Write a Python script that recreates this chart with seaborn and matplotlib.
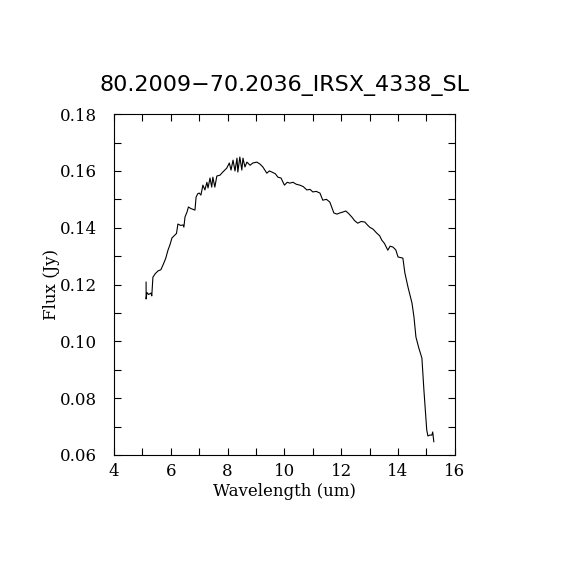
## Recreate IRS spectrum plot

## Imports
import numpy as np
import pandas as pd
import seaborn as sns
import matplotlib.pyplot as plt
from matplotlib.ticker import MultipleLocator

## Data
wavelength = [5.13, 5.13, 5.16, 5.22, 5.30, 5.33, 5.37, 5.45, 5.55, 5.65, 5.73, 5.82, 5.90,
              5.97, 6.04, 6.12, 6.20, 6.25, 6.35, 6.43, 6.46, 6.50, 6.57, 6.62, 6.70,
              6.85, 6.89, 6.95, 7.00, 7.06, 7.13, 7.20, 7.27, 7.31, 7.38, 7.44, 7.48,
              7.55, 7.62, 7.73, 7.83, 7.97, 8.06, 8.12, 8.19, 8.26, 8.33, 8.36, 8.43,
              8.50, 8.54, 8.61, 8.68, 8.79, 8.89, 9.03, 9.14, 9.24, 9.38, 9.47, 9.56,
              9.68, 9.77, 9.88, 10.00, 10.10, 10.19, 10.30, 10.42, 10.54, 10.66, 10.79,
              10.90, 11.00, 11.12, 11.25, 11.35, 11.48, 11.60, 11.74, 11.85, 11.95,
              12.05, 12.16, 12.26, 12.37, 12.47, 12.58, 12.70, 12.83, 12.92, 13.00,
              13.12, 13.25, 13.35, 13.43, 13.52, 13.64, 13.72, 13.82, 13.92, 14.00,
              14.17, 14.24, 14.35, 14.49, 14.56, 14.63, 14.73, 14.84, 14.91, 15.01,
              15.05, 15.12, 15.19, 15.22, 15.26]
flux = [0.1209, 0.1149, 0.1172, 0.1165, 0.1170, 0.1160, 0.1226, 0.1238, 0.1248, 0.1252,
        0.1270, 0.1292, 0.1321, 0.1340, 0.1364, 0.1372, 0.1380, 0.1413, 0.1408, 0.1410,
        0.1402, 0.1438, 0.1455, 0.1473, 0.1468, 0.1462, 0.1508, 0.1520, 0.1522, 0.1515,
        0.1550, 0.1533, 0.1560, 0.1540, 0.1575, 0.1543, 0.1578, 0.1543, 0.1582, 0.1585,
        0.1596, 0.1610, 0.1628, 0.1603, 0.1638, 0.1600, 0.1645, 0.1596, 0.1649, 0.1603,
        0.1645, 0.1614, 0.1631, 0.1620, 0.1628, 0.1631, 0.1624, 0.1614, 0.1592, 0.1600,
        0.1596, 0.1590, 0.1578, 0.1575, 0.1550, 0.1560, 0.1557, 0.1560, 0.1553, 0.1550,
        0.1545, 0.1533, 0.1535, 0.1526, 0.1528, 0.1522, 0.1497, 0.1500, 0.1490, 0.1452,
        0.1448, 0.1452, 0.1455, 0.1459, 0.1450, 0.1438, 0.1425, 0.1416, 0.1422, 0.1420,
        0.1410, 0.1402, 0.1395, 0.1381, 0.1372, 0.1356, 0.1345, 0.1321, 0.1335, 0.1332,
        0.1322, 0.1297, 0.1293, 0.1241, 0.1191, 0.1135, 0.1086, 0.1015, 0.0977, 0.0941,
        0.0829, 0.0688, 0.0667, 0.0670, 0.0670, 0.0681, 0.0646]

title = '80.2009\u221270.2036_IRSX_4338_SL'

df = pd.DataFrame({'Wavelength': wavelength, 'Flux': flux})

sns.set_style('ticks')
plt.rcParams['font.family'] = ['DejaVu Serif']
plt.rcParams['text.color'] = 'black'
plt.rcParams['axes.labelcolor'] = 'black'

fig = plt.figure(figsize=(5.7, 5.7), dpi=100)
ax = fig.add_axes([0.2, 0.2018, 0.598, 0.598])

sns.lineplot(data=df, x='Wavelength', y='Flux', sort=False, color='black',
             linewidth=0.8, ax=ax, estimator=None)

ax.set_xlim(4, 16)
ax.set_ylim(0.06, 0.18)
ax.xaxis.set_major_locator(MultipleLocator(2))
ax.xaxis.set_minor_locator(MultipleLocator(1))
ax.yaxis.set_major_locator(MultipleLocator(0.02))
ax.yaxis.set_minor_locator(MultipleLocator(0.01))
ax.yaxis.set_major_formatter(plt.FormatStrFormatter('%.2f'))
ax.tick_params(which='both', direction='in', top=True, right=True,
               length=5, width=0.8, labelsize=12, colors='black')
ax.tick_params(axis='y', pad=12)
ax.tick_params(axis='x', pad=6)
for s in ax.spines.values():
    s.set_linewidth(0.8)
    s.set_color('black')

ax.set_xlabel('Wavelength (um)', fontsize=12, labelpad=2)
ax.set_ylabel('Flux (Jy)', fontsize=12, labelpad=0)
ax.set_title(title, fontsize=16, family='DejaVu Sans', pad=17, color='black')

plt.savefig('out.png', dpi=100, facecolor='white')
